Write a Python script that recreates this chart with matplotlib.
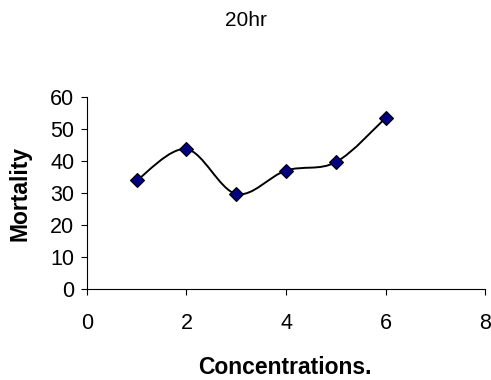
import matplotlib
matplotlib.use("Agg")
import matplotlib.pyplot as plt
import numpy as np
from matplotlib.path import Path
from matplotlib.patches import PathPatch

plt.rcParams['font.family'] = ['Liberation Sans', 'DejaVu Sans']

# data
concentrations = [1, 2, 3, 4, 5, 6]
mortality = [33.9, 43.7, 29.7, 37.0, 39.6, 53.4]
x_ticks = [0, 2, 4, 6, 8]
y_ticks = [0, 10, 20, 30, 40, 50, 60]

fig = plt.figure(figsize=(4.91, 3.8), dpi=100)
ax = fig.add_axes([0.177, 0.2395, 0.811, 0.5055])

# smoothed line like excel (bezier through the points)
x = np.array(concentrations, dtype=float)
y = np.array(mortality, dtype=float)
verts = [(x[0], y[0])]
codes = [Path.MOVETO]
n = len(x)
for i in range(n - 1):
    p0 = (x[i - 1], y[i - 1]) if i > 0 else (x[i], y[i])
    p1 = (x[i], y[i])
    p2 = (x[i + 1], y[i + 1])
    p3 = (x[i + 2], y[i + 2]) if i + 2 < n else (x[i + 1], y[i + 1])
    c1 = (p1[0] + (p2[0] - p0[0]) / 6, p1[1] + (p2[1] - p0[1]) / 6)
    c2 = (p2[0] - (p3[0] - p1[0]) / 6, p2[1] - (p3[1] - p1[1]) / 6)
    verts += [c1, c2, p2]
    codes += [Path.CURVE4] * 3
ax.add_patch(PathPatch(Path(verts, codes), facecolor='none', edgecolor='black', lw=1.4))

ax.plot(concentrations, mortality, linestyle='none', marker='D', markersize=7,
        markerfacecolor='#000080', markeredgecolor='black', markeredgewidth=0.8)

ax.set_xlim(0, 8)
ax.set_ylim(0, 60)
ax.set_xticks(x_ticks)
ax.set_yticks(y_ticks)
ax.spines['top'].set_visible(False)
ax.spines['right'].set_visible(False)
ax.spines['left'].set_color('black')
ax.spines['bottom'].set_color('black')
ax.tick_params(direction='out', length=4, labelsize=15.5, colors='black', width=0.8)
ax.tick_params(axis='x', pad=13)
ax.tick_params(axis='y', pad=5)

fig.text(0.501, 0.945, '20hr', ha='center', va='center', fontsize=15)
fig.text(0.041, 0.492, 'Mortality', rotation=90, ha='center', va='center',
         fontsize=16.5, fontweight='bold')
fig.text(0.58, 0.034, 'Concentrations.', ha='center', va='center',
         fontsize=16.5, fontweight='bold')

plt.savefig('out.png', dpi=100)
plt.close()
